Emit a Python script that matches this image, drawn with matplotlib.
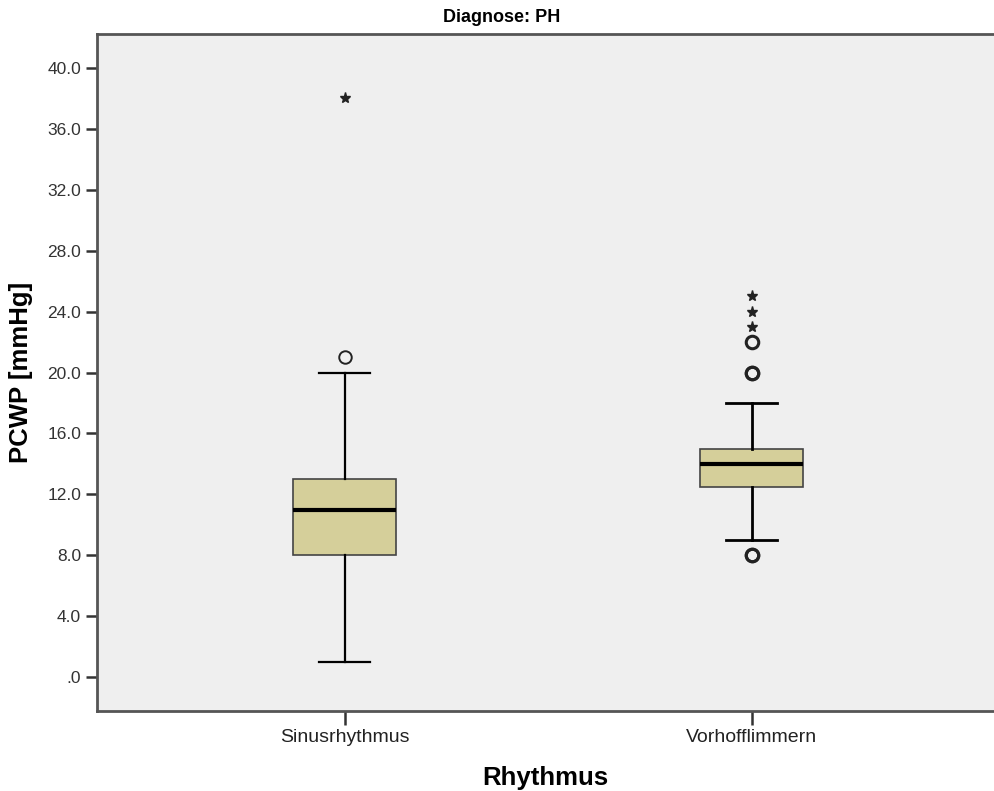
import matplotlib
matplotlib.use("Agg")
import matplotlib.pyplot as plt

plt.rcParams['font.family'] = ['Liberation Sans', 'DejaVu Sans']

categories = ['Sinusrhythmus', 'Vorhofflimmern']
q1 = [8.0, 12.5]
medians = [11.0, 14.0]
q3 = [13.0, 15.0]
whislo = [1.0, 9.0]
whishi = [20.0, 18.0]
outliers = [[21.0], [20.0, 20.0, 22.0, 8.0, 8.0]]
extremes = [[38.0], [23.0, 24.0, 25.0]]
yticks = [0, 4, 8, 12, 16, 20, 24, 28, 32, 36, 40]
ytick_labels = ['.0', '4.0', '8.0', '12.0', '16.0', '20.0', '24.0', '28.0', '32.0', '36.0', '40.0']

fig = plt.figure(figsize=(9.94, 7.91), dpi=100)
ax = fig.add_axes([0.0976, 0.1011, 0.9024, 0.8559])
ax.set_facecolor('#efefef')

positions = [1, 2]
stats = []
for i in range(len(categories)):
    stats.append({'med': medians[i], 'q1': q1[i], 'q3': q3[i],
                  'whislo': whislo[i], 'whishi': whishi[i], 'fliers': []})

bp = ax.bxp(stats, positions=positions, widths=0.253, patch_artist=True,
            showfliers=False,
            boxprops=dict(facecolor='#d5cf9a', edgecolor='#444444', linewidth=1.2),
            medianprops=dict(color='black', linewidth=3),
            whiskerprops=dict(color='black', linewidth=2),
            capprops=dict(color='black', linewidth=2),
            capwidths=0.125)
# first group drawn with thinner whiskers like the original
for ln in bp['whiskers'][:2] + bp['caps'][:2]:
    ln.set_linewidth(1.6)

edge_w = [1.4, 2.2]
for p, vals, w in zip(positions, outliers, edge_w):
    ax.plot([p] * len(vals), vals, linestyle='none', marker='o', markersize=9,
            markerfacecolor='none', markeredgecolor='#222222', markeredgewidth=w)
for p, vals in zip(positions, extremes):
    ax.plot([p] * len(vals), vals, linestyle='none', marker='*', markersize=8,
            color='#222222')

ax.set_xlim(0.391, 2.595)
ax.set_ylim(-2.23, 42.23)
ax.set_xticks(positions)
ax.set_xticklabels(categories, fontsize=14, color='#222222')
ax.set_yticks(yticks)
ax.set_yticklabels(ytick_labels, fontsize=12.5, color='#333333')
ax.tick_params(axis='y', length=8, width=1.8, color='#333333')
ax.tick_params(axis='x', length=10, width=1.8, color='#333333', pad=3)

for side in ['left', 'bottom', 'top']:
    ax.spines[side].set_color('#555555')
    ax.spines[side].set_linewidth(2)
ax.spines['right'].set_visible(False)

ax.set_ylabel('PCWP [mmHg]', fontsize=18.5, fontweight='bold', labelpad=10)
ax.set_xlabel('Rhythmus', fontsize=18.5, fontweight='bold', labelpad=14)
fig.text(0.505, 0.978, 'Diagnose: PH', ha='center', va='center',
         fontsize=13, fontweight='bold')

fig.savefig('out.png', dpi=100)
